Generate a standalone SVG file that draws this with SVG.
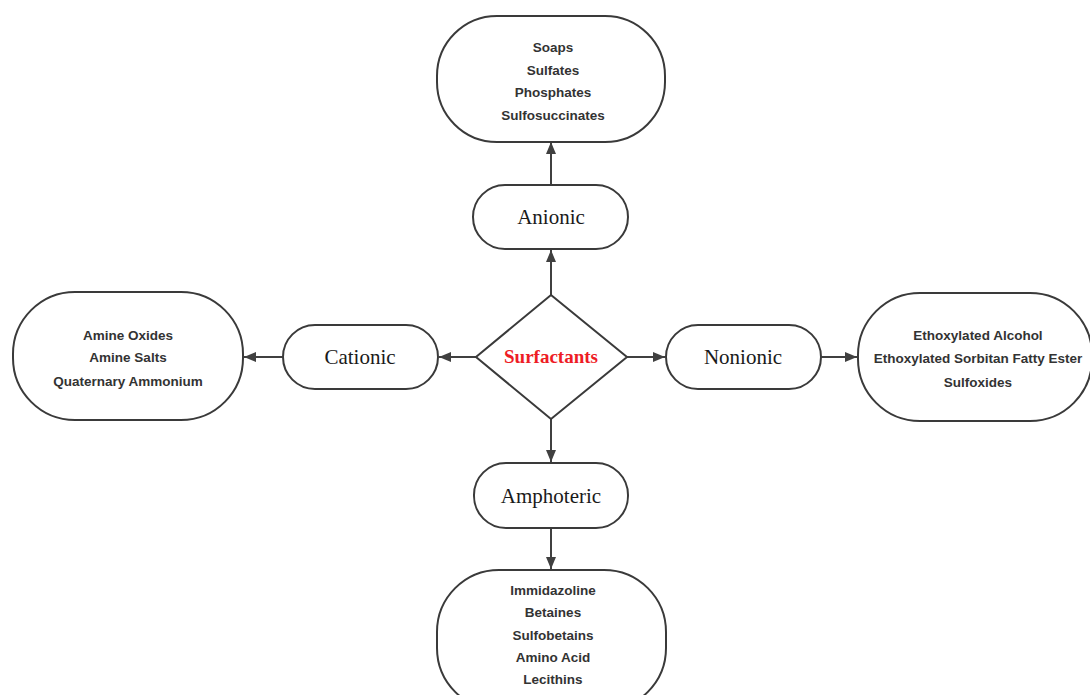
<svg xmlns="http://www.w3.org/2000/svg" width="1090" height="695" viewBox="0 0 1090 695">
<style>
.box{fill:#fff;stroke:#3a3a3a;stroke-width:2}
.lbl{font-family:"Liberation Serif",serif;font-size:21px;fill:#1a1a1a;text-anchor:middle}
.lst{font-family:"Liberation Sans",Arial,sans-serif;font-size:13.5px;font-weight:bold;fill:#333;text-anchor:middle}
.con{stroke:#404040;stroke-width:2;fill:none;marker-end:url(#ah)}
</style>
<defs>
<marker id="ah" viewBox="0 0 12 10" refX="12" refY="5" markerWidth="12" markerHeight="10" markerUnits="userSpaceOnUse" orient="auto">
<path d="M0,0 L12,5 L0,10 Z" fill="#404040"/>
</marker>
</defs>
<rect width="1090" height="695" fill="#fff"/>
<g id="connectors">
<line class="con" x1="551" y1="295" x2="551" y2="250"/>
<line class="con" x1="551" y1="185" x2="551" y2="142"/>
<line class="con" x1="476" y1="357" x2="439" y2="357"/>
<line class="con" x1="283" y1="357" x2="244" y2="357"/>
<line class="con" x1="627" y1="357" x2="665" y2="357"/>
<line class="con" x1="821" y1="357" x2="857" y2="357"/>
<line class="con" x1="551" y1="419" x2="551" y2="462"/>
<line class="con" x1="551" y1="528" x2="551" y2="569"/>
</g>
<g id="surfactants">
<polygon class="box" points="551,295 627,357 551,419 476,357"/>
<text x="551" y="363" font-family="'Liberation Serif',serif" font-size="19" font-weight="bold" fill="#ee1c25" text-anchor="middle">Surfactants</text>
</g>
<g id="anionic">
<rect class="box" x="473" y="185" width="155" height="64" rx="32"/>
<text class="lbl" x="551" y="224">Anionic</text>
</g>
<g id="anionic-list">
<rect class="box" x="437" y="16" width="228" height="126" rx="60"/>
<text class="lst" x="553" y="52">Soaps</text>
<text class="lst" x="553" y="75">Sulfates</text>
<text class="lst" x="553" y="97">Phosphates</text>
<text class="lst" x="553" y="120">Sulfosuccinates</text>
</g>
<g id="cationic">
<rect class="box" x="283" y="325" width="155" height="64" rx="32"/>
<text class="lbl" x="360" y="364">Cationic</text>
</g>
<g id="cationic-list">
<rect class="box" x="13" y="292" width="230" height="128" rx="62"/>
<text class="lst" x="128" y="340">Amine Oxides</text>
<text class="lst" x="128" y="362">Amine Salts</text>
<text class="lst" x="128" y="386">Quaternary Ammonium</text>
</g>
<g id="nonionic">
<rect class="box" x="666" y="325" width="155" height="64" rx="32"/>
<text class="lbl" x="743" y="364">Nonionic</text>
</g>
<g id="nonionic-list">
<rect class="box" x="858" y="293" width="234" height="128" rx="62"/>
<text class="lst" x="978" y="340">Ethoxylated Alcohol</text>
<text class="lst" x="978" y="363">Ethoxylated Sorbitan Fatty Ester</text>
<text class="lst" x="978" y="387">Sulfoxides</text>
</g>
<g id="amphoteric">
<rect class="box" x="474" y="463" width="154" height="65" rx="32"/>
<text class="lbl" x="551" y="503">Amphoteric</text>
</g>
<g id="amphoteric-list">
<rect class="box" x="437" y="570" width="229" height="140" rx="62"/>
<text class="lst" x="553" y="595">Immidazoline</text>
<text class="lst" x="553" y="617">Betaines</text>
<text class="lst" x="553" y="640">Sulfobetains</text>
<text class="lst" x="553" y="662">Amino Acid</text>
<text class="lst" x="553" y="684">Lecithins</text>
</g>
</svg>
